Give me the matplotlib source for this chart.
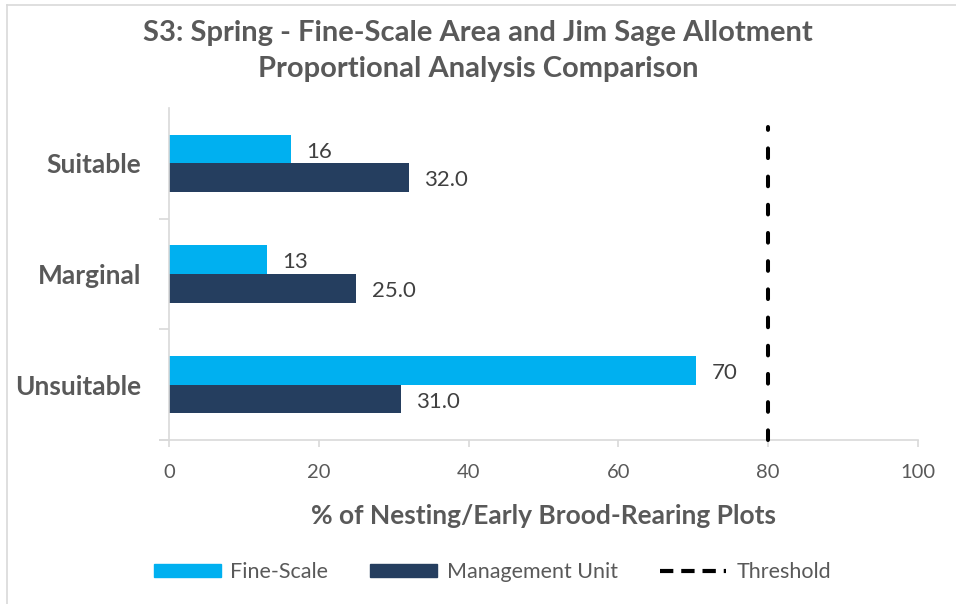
import numpy as np
import matplotlib.pyplot as plt
from matplotlib.lines import Line2D
from matplotlib.patches import Patch

# data
categories = ['Unsuitable', 'Marginal', 'Suitable']
fine_scale = [70.4, 13.1, 16.3]
mgmt_unit = [31.0, 25.0, 32.0]
threshold = 80

c_fine = '#00B0F0'
c_mu = '#253E5F'
c_text = '#595959'
c_grid = '#D9D9D9'

plt.rcParams['font.family'] = ['Lato', 'DejaVu Sans']

fig = plt.figure(figsize=(9.56, 6.04), dpi=100)
ax = fig.add_axes([0.1768, 0.2715, 0.7835, 0.5497])

y = np.arange(len(categories))
h = 0.26
b1 = ax.barh(y + h/2, fine_scale, height=h, color=c_fine, label='Fine-Scale')
b2 = ax.barh(y - h/2, mgmt_unit, height=h, color=c_mu, label='Management Unit')
for bars, fmt in [(b1, '%.0f'), (b2, '%.1f')]:
    for t in ax.bar_label(bars, fmt=fmt, padding=11, fontsize=16, color='#404040'):
        t.set_y(-2)

# threshold line
ax.plot([threshold, threshold], [-0.5, 2.33], color='black', ls=(0, (2.4, 4.6)),
        lw=2.9, dash_capstyle='round', zorder=3, clip_on=False)

ax.set_xlim(0, 100)
ax.set_ylim(-0.5, 2.5)
ax.set_xticks(range(0, 101, 20))
ax.set_yticks(y)
ax.set_yticklabels(categories, fontsize=19, fontweight='bold', color=c_text)
ax.tick_params(axis='y', length=0, pad=20)
ax.set_yticks([-0.5, 0.5, 1.5], minor=True)
ax.tick_params(axis='y', which='minor', length=7, color=c_grid, width=1.2)
ax.tick_params(axis='x', length=5, color=c_grid, width=1.2, direction='out',
               labelsize=14.5, labelcolor=c_text, pad=12)

for s in ['top', 'right']:
    ax.spines[s].set_visible(False)
for s in ['left', 'bottom']:
    ax.spines[s].set_color(c_grid)
    ax.spines[s].set_linewidth(1.2)
ax.spines['bottom'].set_bounds(-1.2, 100)

ax.set_xlabel('% of Nesting/Early Brood-Rearing Plots', fontsize=19,
              fontweight='bold', color=c_text)
ax.xaxis.set_label_coords(0.5, (440 - 516) / 332)
ax.xaxis.label.set_va('center')

fig.suptitle('S3: Spring - Fine-Scale Area and Jim Sage Allotment\n'
             'Proportional Analysis Comparison', y=1 - 51/604, va='center',
             fontsize=21, fontweight='bold', color=c_text, linespacing=1.5)

handles = [Patch(color=c_fine, label='Fine-Scale'),
           Patch(color=c_mu, label='Management Unit'),
           Line2D([], [], color='black', ls=(0, (3.2, 1.9)), lw=3, label='Threshold')]
leg = fig.legend(handles=handles, loc='center', bbox_to_anchor=(0.515, 1 - 572/604),
                 ncol=3, frameon=False, fontsize=15.5, handlelength=3.1,
                 handleheight=0.55, columnspacing=1.95, handletextpad=0.45)
for t in leg.get_texts():
    t.set_color(c_text)

# chart-area border
fig.add_artist(Line2D([7/956, 7/956], [0, 1 - 5/604], color=c_grid,
                      lw=1.2, transform=fig.transFigure))
fig.add_artist(Line2D([7/956, 1], [1 - 5/604, 1 - 5/604], color=c_grid,
                      lw=1.2, transform=fig.transFigure))

fig.savefig('out.png', dpi=100)
